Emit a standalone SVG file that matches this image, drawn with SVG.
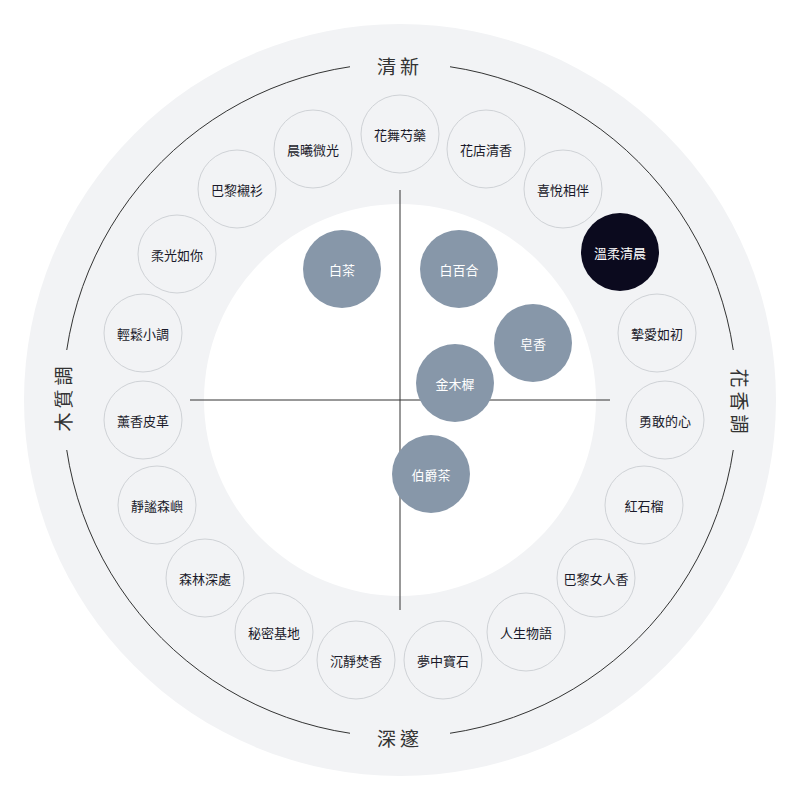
<svg xmlns="http://www.w3.org/2000/svg" width="800" height="800" viewBox="0 0 800 800">
<style>
text{font-family:"Noto Sans CJK TC","Noto Sans CJK SC",sans-serif;fill:#1a1a2a;text-anchor:middle;dominant-baseline:central}
.n circle{fill:#f2f3f5;stroke:#cfd2d6;stroke-width:1}
.n text{font-size:13px}
.g circle{fill:#8797a9}
.g text{fill:#fff;font-size:13px}
.ax{font-size:19px;fill:#333}
</style>
<rect width="800" height="800" fill="#fff"/>
<circle cx="400" cy="400" r="376" fill="#f2f3f5"/>
<circle cx="400" cy="400" r="337" fill="none" stroke="#333" stroke-width="1"/>
<rect x="350" y="45" width="100" height="40" fill="#f2f3f5"/>
<rect x="350" y="717" width="100" height="40" fill="#f2f3f5"/>
<rect x="42" y="350" width="40" height="100" fill="#f2f3f5"/>
<rect x="718" y="350" width="40" height="100" fill="#f2f3f5"/>
<circle cx="400" cy="400" r="196" fill="#fff"/>
<g id="connectors" stroke="#333" stroke-width="1">
<line x1="400" y1="190" x2="400" y2="610"/>
<line x1="190" y1="400" x2="610" y2="400"/>
</g>
<text class="ax" x="400" y="65" letter-spacing="4">清新</text>
<text class="ax" x="400" y="737" letter-spacing="4">深邃</text>
<text class="ax" transform="translate(740,403) rotate(90)" letter-spacing="4">花香調</text>
<text class="ax" transform="translate(62,397) rotate(-90)" letter-spacing="4">木質調</text>
<g id="n1" class="n"><circle cx="400" cy="134" r="39"/><text x="400" y="134">花舞芍藥</text></g>
<g id="n2" class="n"><circle cx="486" cy="149" r="39"/><text x="486" y="149">花店清香</text></g>
<g id="n3" class="n"><circle cx="563" cy="189" r="39"/><text x="563" y="189">喜悅相伴</text></g>
<g id="n4"><circle cx="620" cy="252" r="39" fill="#0b0a1e"/><text x="620" y="252" font-size="13" style="fill:#fff">溫柔清晨</text></g>
<g id="n5" class="n"><circle cx="657" cy="333" r="39"/><text x="657" y="333">摯愛如初</text></g>
<g id="n6" class="n"><circle cx="665" cy="420" r="39"/><text x="665" y="420">勇敢的心</text></g>
<g id="n7" class="n"><circle cx="644" cy="505" r="39"/><text x="644" y="505">紅石榴</text></g>
<g id="n8" class="n"><circle cx="596" cy="578" r="39"/><text x="596" y="578">巴黎女人香</text></g>
<g id="n9" class="n"><circle cx="526" cy="632" r="39"/><text x="526" y="632">人生物語</text></g>
<g id="n10" class="n"><circle cx="443" cy="660" r="39"/><text x="443" y="660">夢中寶石</text></g>
<g id="n11" class="n"><circle cx="356" cy="660" r="39"/><text x="356" y="660">沉靜焚香</text></g>
<g id="n12" class="n"><circle cx="274" cy="632" r="39"/><text x="274" y="632">秘密基地</text></g>
<g id="n13" class="n"><circle cx="205" cy="578" r="39"/><text x="205" y="578">森林深處</text></g>
<g id="n14" class="n"><circle cx="157" cy="505" r="39"/><text x="157" y="505">靜謐森嶼</text></g>
<g id="n15" class="n"><circle cx="143" cy="420" r="39"/><text x="143" y="420">薰香皮革</text></g>
<g id="n16" class="n"><circle cx="143" cy="333" r="39"/><text x="143" y="333">輕鬆小調</text></g>
<g id="n17" class="n"><circle cx="177" cy="254" r="39"/><text x="177" y="254">柔光如你</text></g>
<g id="n18" class="n"><circle cx="237" cy="189" r="39"/><text x="237" y="189">巴黎襯衫</text></g>
<g id="n19" class="n"><circle cx="313" cy="149" r="39"/><text x="313" y="149">晨曦微光</text></g>
<g id="g1" class="g"><circle cx="342" cy="269" r="39"/><text x="342" y="269">白茶</text></g>
<g id="g2" class="g"><circle cx="459" cy="269" r="39"/><text x="459" y="269">白百合</text></g>
<g id="g3" class="g"><circle cx="533" cy="343" r="39"/><text x="533" y="343">皂香</text></g>
<g id="g4" class="g"><circle cx="455" cy="383" r="39"/><text x="455" y="383">金木樨</text></g>
<g id="g5" class="g"><circle cx="431" cy="474" r="39"/><text x="431" y="474">伯爵茶</text></g>
</svg>
